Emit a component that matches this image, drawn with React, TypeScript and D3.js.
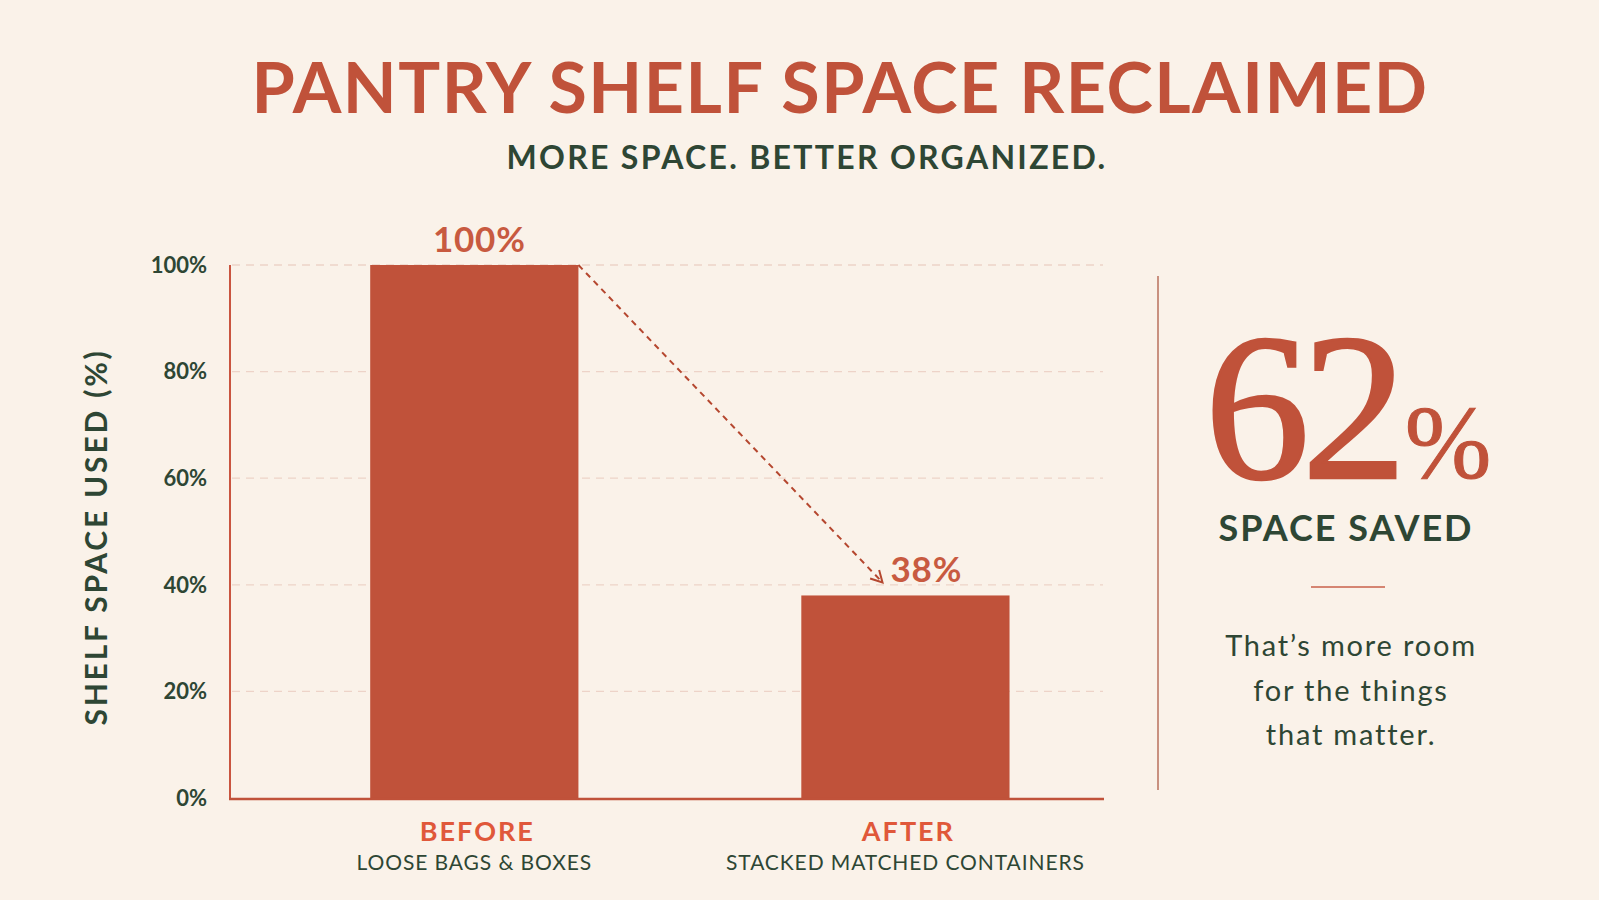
import React from "react";
import * as d3 from "d3";

const categories = ["BEFORE", "AFTER"];
const subLabels = ["LOOSE BAGS & BOXES", "STACKED MATCHED CONTAINERS"];
const values = [100, 38];
const tickValues = [0, 20, 40, 60, 80, 100];
const savedValue = 62;
const blurb = ["That\u2019s more room", "for the things", "that matter."];

const W = 1599;
const H = 900;
const bg = "#FAF2E9";
const red = "#C0523A";
const green = "#2E4634";
const sans = "Lato, 'Open Sans', sans-serif";

const App = () => {
  // plot area
  const x = d3.scaleBand().domain(categories).range([230, 1103]).paddingInner(0.517).paddingOuter(0.271).align(0.6);
  const y = d3.scaleLinear().domain([0, 100]).range([798, 265]);
  const bw = x.bandwidth();

  const x0 = x(categories[0])! + bw;
  const y0 = y(values[0]);
  const x1 = x(categories[1])! + bw * 0.39;
  const y1 = y(values[1]) - 13;
  const ang = Math.atan2(y1 - y0, x1 - x0);
  const head = 13;
  const spread = 0.5;

  return (
    <svg width={W} height={H} style={{ position: "absolute", left: 0, top: 0 }}>
      <rect width={W} height={H} fill={bg} />

      {/* title */}
      <text x={840} y={113} textAnchor="middle" fontFamily={sans} fontWeight={700} fontSize={70} letterSpacing={1.5} fill={red}>
        PANTRY SHELF SPACE RECLAIMED
      </text>
      <text x={807} y={169} textAnchor="middle" fontFamily={sans} fontWeight={700} fontSize={32} letterSpacing={2.3} fill={green}>
        MORE SPACE. BETTER ORGANIZED.
      </text>

      {/* grid */}
      {tickValues.map((t) => (
        <g key={t}>
          {t > 0 && (
            <line x1={232} x2={1103} y1={y(t)} y2={y(t)} stroke="#EDD3C8" strokeWidth={1.3} strokeDasharray="8 6" />
          )}
          <text x={207} y={y(t)} dy="0.35em" textAnchor="end" fontFamily={sans} fontWeight={700} fontSize={22} fill={green}>
            {t}%
          </text>
        </g>
      ))}

      {/* bars */}
      {categories.map((c, i) => (
        <rect key={c} x={x(c)} y={y(values[i])} width={bw} height={y(0) - y(values[i])} fill={red} />
      ))}

      {/* axes */}
      <line x1={230} x2={230} y1={265} y2={799} stroke="#C9553F" strokeWidth={2} />
      <line x1={229} x2={1104} y1={799} y2={799} stroke={red} strokeWidth={2.5} />

      {/* value labels */}
      <text x={x(categories[0])! + bw / 2 + 5} y={252} textAnchor="middle" fontFamily={sans} fontWeight={700} fontSize={35} letterSpacing={0.8} fill="#C85A40">
        {values[0]}%
      </text>
      <text x={x1 + 8} y={y(values[1]) - 13} fontFamily={sans} fontWeight={700} fontSize={35} letterSpacing={0.8} fill="#C85A40">
        {values[1]}%
      </text>

      {/* arrow */}
      <line x1={x0} y1={y0} x2={x1} y2={y1} stroke="#B5472F" strokeWidth={2} strokeDasharray="6 5" />
      <path
        d={`M${x1 - head * Math.cos(ang - spread)},${y1 - head * Math.sin(ang - spread)}L${x1},${y1}L${x1 - head * Math.cos(ang + spread)},${y1 - head * Math.sin(ang + spread)}`}
        fill="none"
        stroke="#B5472F"
        strokeWidth={2}
      />

      {/* category labels */}
      {categories.map((c, i) => (
        <g key={c}>
          <text x={x(c)! + bw / 2 + 3} y={841} textAnchor="middle" fontFamily={sans} fontWeight={700} fontSize={27} letterSpacing={2} fill="#E0583A">
            {c}
          </text>
          <text x={x(c)! + bw / 2} y={870} textAnchor="middle" fontFamily={sans} fontWeight={400} fontSize={21} letterSpacing={0.9} fill={green}>
            {subLabels[i]}
          </text>
        </g>
      ))}

      {/* y title */}
      <text transform="translate(107,537) rotate(-90)" textAnchor="middle" fontFamily={sans} fontWeight={700} fontSize={30} letterSpacing={2.8} fill={green}>
        SHELF SPACE USED (%)
      </text>

      {/* right panel */}
      <line x1={1158} x2={1158} y1={276} y2={790} stroke="#B8705C" strokeWidth={1.5} />
      <text x={1348} y={478} textAnchor="middle" fontFamily="'Liberation Serif', 'DejaVu Serif', serif" fill={red} stroke={red}>
        <tspan fontSize={210} letterSpacing={-8} strokeWidth={2.5}>{savedValue}</tspan>
        <tspan fontSize={104} dx={6} strokeWidth={1}>%</tspan>
      </text>
      <text x={1346} y={541} textAnchor="middle" fontFamily={sans} fontWeight={700} fontSize={36} letterSpacing={2} fill={green}>
        SPACE SAVED
      </text>
      <line x1={1311} x2={1385} y1={587} y2={587} stroke="#C8604A" strokeWidth={1.5} />
      {blurb.map((s, i) => (
        <text key={s} x={1351} y={656 + i * 44.5} textAnchor="middle" fontFamily={sans} fontWeight={400} fontSize={29} letterSpacing={1.8} fill={green}>
          {s}
        </text>
      ))}
    </svg>
  );
};

export default App;
